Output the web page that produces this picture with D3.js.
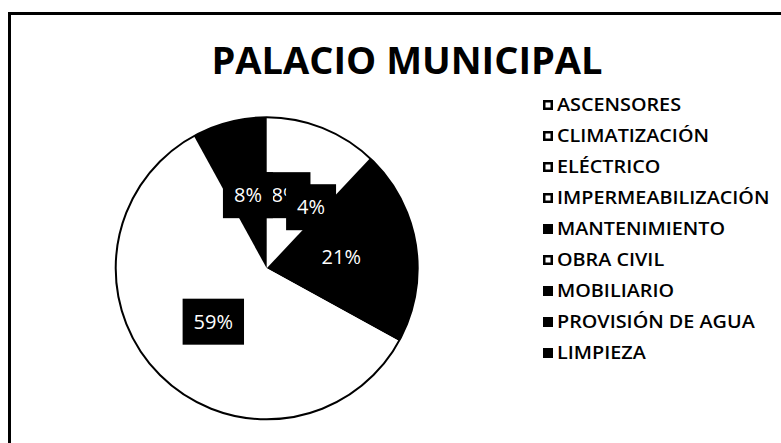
<!DOCTYPE html>
<html>
<head>
<meta charset="utf-8">
<script src="https://cdn.jsdelivr.net/npm/d3@7"></script>
<style>
  html, body { margin: 0; padding: 0; background: #fff; }
  svg { display: block; }
</style>
</head>
<body>
<svg id="chart" width="781" height="443"></svg>
<script>
// Cost breakdown by item (percent of total)
const categories = [
  "ASCENSORES", "CLIMATIZACIÓN", "ELÉCTRICO", "IMPERMEABILIZACIÓN",
  "MANTENIMIENTO", "OBRA CIVIL", "MOBILIARIO", "PROVISIÓN DE AGUA", "LIMPIEZA"
];
const values = [8, 4, 0, 0, 21, 59, 0, 0, 8];
const colors = ["#ffffff", "#ffffff", "#ffffff", "#ffffff", "#000000", "#ffffff", "#000000", "#000000", "#000000"];
const title = "PALACIO MUNICIPAL";

const svg = d3.select("#chart");
const W = 781, H = 443;

svg.append("rect").attr("width", W).attr("height", H).attr("fill", "#fff");

// outer frame (top and left edges visible; right/bottom run off the page)
svg.append("rect")
  .attr("x", 9.5).attr("y", 13.5)
  .attr("width", W + 20).attr("height", H + 20)
  .attr("fill", "none").attr("stroke", "#000").attr("stroke-width", 3);

// title
svg.append("text")
  .attr("x", 407).attr("y", 74)
  .attr("text-anchor", "middle")
  .attr("font-family", "'Open Sans', sans-serif")
  .attr("font-weight", 700)
  .attr("font-size", 38)
  .attr("fill", "#000")
  .text(title);

// pie
const cx = 266.7, cy = 268.3, R = 151;
const data = categories.map((c, i) => ({ name: c, value: values[i], color: colors[i] }));
const pie = d3.pie().sort(null).value(d => d.value);
const arcs = pie(data);
const arc = d3.arc().innerRadius(0).outerRadius(R);

const g = svg.append("g").attr("transform", `translate(${cx},${cy})`);
g.selectAll("path.slice")
  .data(arcs)
  .join("path")
  .attr("class", "slice")
  .attr("d", arc)
  .attr("fill", d => d.data.color);

g.append("circle")
  .attr("r", R)
  .attr("fill", "none")
  .attr("stroke", "#000")
  .attr("stroke-width", 2);

// data labels: white text on black boxes, at the slice centroid
const labelGroups = g.selectAll("g.lbl")
  .data(arcs.filter(d => d.data.value > 0))
  .join("g")
  .attr("class", "lbl")
  .attr("transform", d => {
    const [x, y] = arc.centroid(d);
    return `translate(${x},${y})`;
  });

labelGroups.each(function (d) {
  const grp = d3.select(this);
  const t = grp.append("text")
    .attr("text-anchor", "middle")
    .attr("dy", "0.36em")
    .attr("font-family", "'Open Sans', sans-serif")
    .attr("font-size", 20)
    .attr("fill", "#fff")
    .text(d.data.value + "%");
  const w = t.node().getComputedTextLength();
  const padX = 11, h = 46;
  grp.insert("rect", "text")
    .attr("x", -w / 2 - padX)
    .attr("y", -h / 2)
    .attr("width", w + 2 * padX)
    .attr("height", h)
    .attr("fill", "#000");
});

// legend
const legX = 543, legY0 = 105, legStep = 31, box = 10;
const leg = svg.append("g");
const items = leg.selectAll("g.item")
  .data(data)
  .join("g")
  .attr("class", "item")
  .attr("transform", (d, i) => `translate(${legX},${legY0 + i * legStep})`);

items.append("rect")
  .attr("x", 1.25).attr("y", -box / 2 + 1.25)
  .attr("width", box - 2.5).attr("height", box - 2.5)
  .attr("fill", d => d.color)
  .attr("stroke", "#000")
  .attr("stroke-width", 2.5);

items.append("text")
  .attr("transform", "translate(14,0) scale(1.1,1)")
  .attr("dy", "0.36em")
  .attr("font-family", "'Open Sans', sans-serif")
  .attr("font-weight", 600)
  .attr("font-size", 18)
  .attr("fill", "#000")
  .text(d => d.name);
</script>
</body>
</html>
